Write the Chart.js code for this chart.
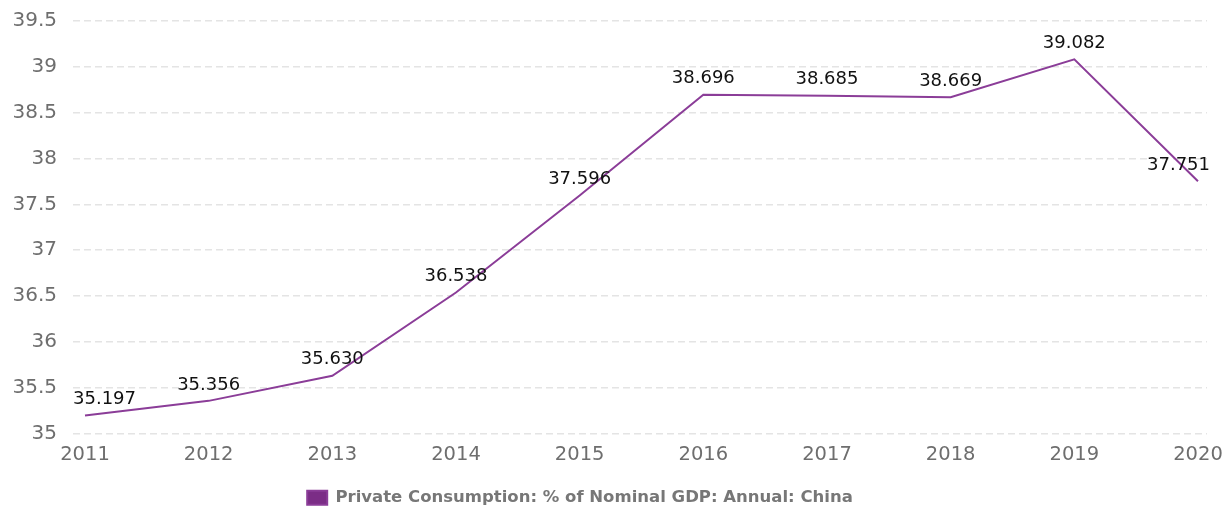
<!DOCTYPE html>
<html>
<head>
<meta charset="utf-8">
<script src="https://cdn.jsdelivr.net/npm/chart.js@4"></script>
<style>
  html, body { margin: 0; padding: 0; background: #fff; }
  canvas { display: block; }
</style>
</head>
<body>
<canvas id="c" width="1231" height="508"></canvas>
<script>
// Private consumption share of nominal GDP, China, annual
const years = [2011, 2012, 2013, 2014, 2015, 2016, 2017, 2018, 2019, 2020];
const values = [35.197, 35.356, 35.630, 36.538, 37.596, 38.696, 38.685, 38.669, 39.082, 37.751];
const yTicks = [35, 35.5, 36, 36.5, 37, 37.5, 38, 38.5, 39, 39.5];
const seriesLabel = 'Private Consumption: % of Nominal GDP: Annual: China';

const lineColor = '#8b3d98';
const legendColor = '#7b2d86';

// Value labels above each point, kept inside the plot area horizontally
const valueLabels = {
  id: 'valueLabels',
  afterDatasetsDraw(chart) {
    const ctx = chart.ctx;
    const area = chart.chartArea;
    const meta = chart.getDatasetMeta(0);
    ctx.save();
    ctx.font = '18px "DejaVu Sans", sans-serif';
    ctx.fillStyle = '#111';
    ctx.textAlign = 'center';
    ctx.textBaseline = 'middle';
    meta.data.forEach((pt, i) => {
      const txt = values[i].toFixed(3);
      const w = ctx.measureText(txt).width;
      let x = pt.x;
      x = Math.max(x, area.left + w / 2);
      x = Math.min(x, area.right + 3 - w / 2);
      ctx.fillText(txt, x, pt.y - 16);
    });
    ctx.restore();
  }
};

// Legend sits slightly left of the canvas centre and close to the bottom edge
const legendShift = {
  id: 'legendShift',
  afterLayout(chart) {
    const lg = chart.legend;
    if (lg) {
      lg.left -= 47;
      lg.top += 8;
      lg.bottom += 8;
    }
  }
};

new Chart(document.getElementById('c'), {
  type: 'line',
  data: {
    datasets: [{
      label: seriesLabel,
      data: years.map((y, i) => ({ x: y, y: values[i] })),
      borderColor: lineColor,
      backgroundColor: legendColor,
      borderWidth: 2,
      pointRadius: 0,
      tension: 0,
      fill: false
    }]
  },
  options: {
    responsive: false,
    animation: false,
    layout: { padding: { top: 21, right: 24, left: 0, bottom: 0 } },
    scales: {
      x: {
        type: 'linear',
        min: 2010.903,
        max: 2020.073,
        afterBuildTicks(scale) { scale.ticks = years.map(v => ({ value: v })); },
        afterFit(scale) {
          scale.height = 47;
          scale.paddingLeft = 0;
          scale.paddingRight = 0;
        },
        grid: { display: false, drawTicks: false },
        border: { display: false },
        ticks: {
          padding: 10,
          color: '#6e6e6e',
          font: { family: '"DejaVu Sans", sans-serif', size: 19.5 },
          maxRotation: 0,
          autoSkip: false,
          callback: v => String(v)
        }
      },
      y: {
        min: 35,
        max: 39.5,
        afterBuildTicks(scale) { scale.ticks = yTicks.map(v => ({ value: v })); },
        afterFit(scale) {
          scale.width = 73;
          scale.paddingTop = 0;
          scale.paddingBottom = 0;
        },
        grid: {
          color: '#e4e4e4',
          lineWidth: 1.5,
          drawTicks: false
        },
        border: { display: false, dash: [7, 4] },
        ticks: {
          padding: 16,
          color: '#6e6e6e',
          font: { family: '"DejaVu Sans", sans-serif', size: 20 },
          callback: v => String(v)
        }
      }
    },
    plugins: {
      legend: {
        position: 'bottom',
        labels: {
          boxWidth: 20,
          boxHeight: 14,
          padding: 1,
          color: '#777',
          font: { family: '"DejaVu Sans", sans-serif', size: 16.5, weight: 'bold' }
        }
      },
      tooltip: { enabled: false }
    }
  },
  plugins: [valueLabels, legendShift]
});
</script>
</body>
</html>
